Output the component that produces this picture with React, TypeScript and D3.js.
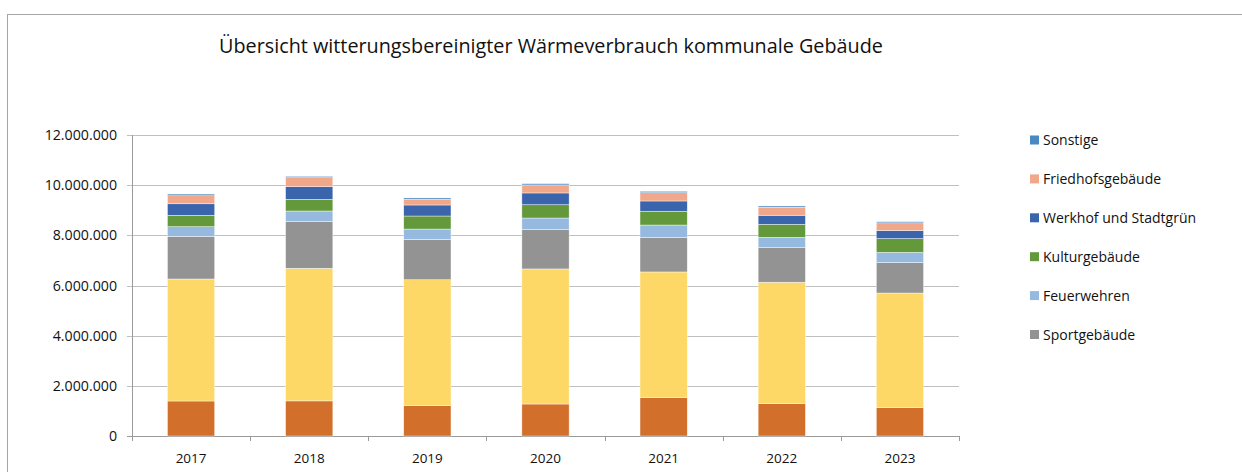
import React from "react";
import * as d3 from "d3";

const years = ["2017", "2018", "2019", "2020", "2021", "2022", "2023"];
const seriesNames = [
  "Verwaltungsgebäude",
  "Schulen",
  "Sportgebäude",
  "Feuerwehren",
  "Kulturgebäude",
  "Werkhof und Stadtgrün",
  "Friedhofsgebäude",
  "Sonstige",
];
const verwaltung = [1395000, 1400000, 1210000, 1276000, 1530000, 1290000, 1130000];
const schulen = [4864000, 5285000, 5020000, 5384000, 5010000, 4840000, 4570000];
const sport = [1700000, 1860000, 1610000, 1565000, 1380000, 1380000, 1210000];
const feuerwehr = [385000, 425000, 410000, 465000, 490000, 410000, 410000];
const kultur = [455000, 465000, 520000, 530000, 550000, 520000, 550000];
const werkhof = [460000, 505000, 440000, 470000, 410000, 360000, 320000];
const friedhof = [320000, 360000, 225000, 320000, 330000, 320000, 310000];
const sonstige = [65000, 50000, 55000, 50000, 55000, 50000, 45000];
const seriesValues = [verwaltung, schulen, sport, feuerwehr, kultur, werkhof, friedhof, sonstige];
const colors = ["#D2702B", "#FDD866", "#939393", "#96B9E0", "#63983B", "#3A64AC", "#F0A78A", "#4A88C4"];
const yTicks = [0, 2000000, 4000000, 6000000, 8000000, 10000000, 12000000];
const legendShown = ["Sonstige", "Friedhofsgebäude", "Werkhof und Stadtgrün", "Kulturgebäude", "Feuerwehren", "Sportgebäude"];

const FONT = "'Open Sans', sans-serif";

export default function App() {
  const left = 132, right = 959, top = 135, bottom = 436;
  const x = d3.scaleBand<string>().domain(years).range([left, right]).paddingInner(0.6).paddingOuter(0.3);
  const xb = d3.scaleBand<string>().domain(years).range([left, right]);
  const y = d3.scaleLinear().domain([0, 12000000]).range([bottom, top]);
  const fmt = (v: number) => d3.format(",")(v).replace(/,/g, ".");

  const table = years.map((yr, i) => {
    const row: any = { year: yr };
    seriesNames.forEach((s, k) => (row[s] = seriesValues[k][i]));
    return row;
  });
  const stacked = d3.stack<any>().keys(seriesNames)(table);

  return (
    <div style={{ position: "absolute", left: 0, top: 0 }}>
      <svg width={1242} height={472} style={{ display: "block", background: "#fff" }}>
        <rect x={7.5} y={14.5} width={1300} height={600} fill="#fff" stroke="#a6a6a6" strokeWidth={1} />
        <text x={551} y={53} textAnchor="middle" fontFamily={FONT} fontSize={19.8} fill="#111">
          Übersicht witterungsbereinigter Wärmeverbrauch kommunale Gebäude
        </text>
        {yTicks.map((t) => (
          <g key={t}>
            <line x1={left - 5} x2={right} y1={Math.round(y(t)) + 0.5} y2={Math.round(y(t)) + 0.5}
              stroke={t === 0 ? "#9a9a9a" : "#c0c0c0"} strokeWidth={1} />
            <text x={117} y={y(t) + 5} textAnchor="end" fontFamily={FONT} fontSize={14.2} fill="#111">
              {fmt(t)}
            </text>
          </g>
        ))}
        <line x1={left + 0.5} x2={left + 0.5} y1={top} y2={bottom} stroke="#9a9a9a" />
        {[...years.map((yr) => xb(yr)!), right].map((p, i) => (
          <line key={i} x1={Math.round(p) + 0.5} x2={Math.round(p) + 0.5} y1={bottom} y2={bottom + 5} stroke="#9a9a9a" />
        ))}
        {years.map((yr) => (
          <text key={yr} x={xb(yr)! + xb.bandwidth() / 2} y={463} textAnchor="middle" fontFamily={FONT} fontSize={13.5} fill="#111">
            {yr}
          </text>
        ))}
        {stacked.map((layer, k) => (
          <g key={layer.key} fill={colors[k]}>
            {layer.map((d, i) => (
              <rect key={i} x={x(years[i])} width={x.bandwidth()} y={y(d[1])} height={y(d[0]) - y(d[1])}
                stroke="#ffffff" strokeWidth={0.6} strokeOpacity={0.7} />
            ))}
          </g>
        ))}
        {legendShown.map((name, i) => {
          const k = seriesNames.indexOf(name);
          const cy = 140 + i * 38.9;
          return (
            <g key={name}>
              <rect x={1030} y={cy - 4.5} width={9} height={9} fill={colors[k]} />
              <text x={1043} y={cy + 5} fontFamily={FONT} fontSize={14} fill="#111">{name}</text>
            </g>
          );
        })}
      </svg>
    </div>
  );
}
